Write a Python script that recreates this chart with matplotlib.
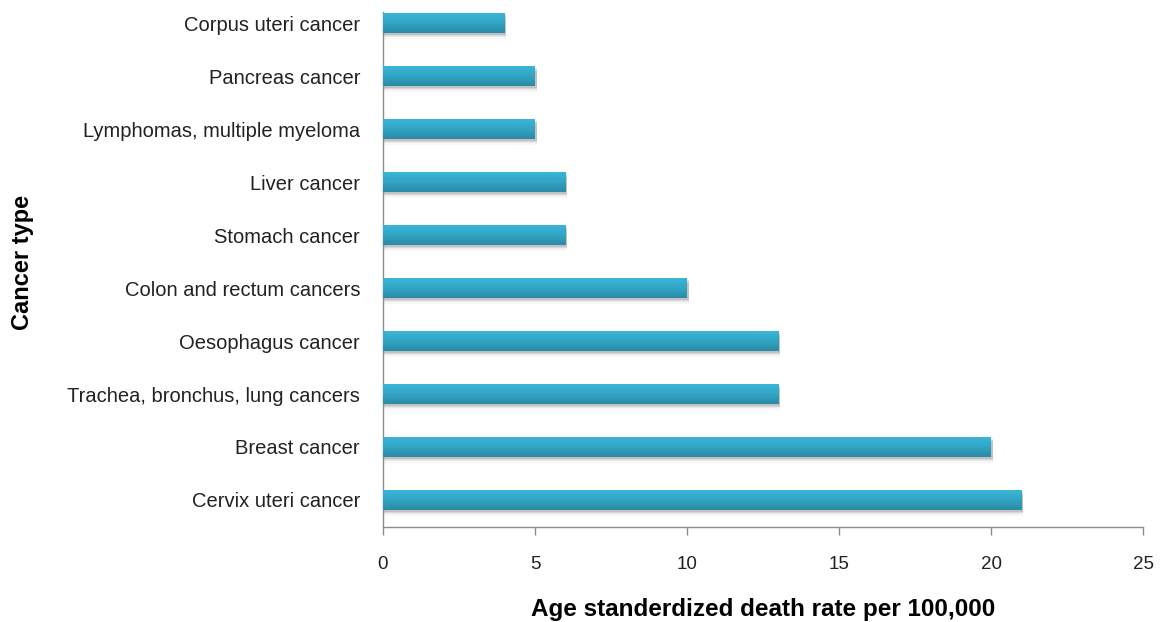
import numpy as np
import matplotlib
matplotlib.use("Agg")
import matplotlib.pyplot as plt
from matplotlib.colors import LinearSegmentedColormap
from matplotlib.patches import Rectangle

plt.rcParams['font.family'] = ['Liberation Sans', 'DejaVu Sans']

categories = [
    "Cervix uteri cancer",
    "Breast cancer",
    "Trachea, bronchus, lung cancers",
    "Oesophagus cancer",
    "Colon and rectum cancers",
    "Stomach cancer",
    "Liver cancer",
    "Lymphomas, multiple myeloma",
    "Pancreas cancer",
    "Corpus uteri cancer",
]
rates = [21, 20, 13, 13, 10, 6, 6, 5, 5, 4]
x_ticks = [0, 5, 10, 15, 20, 25]

fig = plt.figure(figsize=(11.6, 6.22), dpi=100)
ax = fig.add_axes([383 / 1160, 1 - 527 / 622, 760 / 1160, 515 / 622])

bar_h = 0.38
grad = LinearSegmentedColormap.from_list("bar", ["#2a8aa5", "#32a6c6", "#3bb7da"])
gimg = np.linspace(0, 1, 64).reshape(-1, 1)

y = np.arange(len(categories))
for yi, v in zip(y, rates):
    # soft drop shadow under each bar
    for k, a in enumerate([0.10, 0.07, 0.05, 0.03]):
        off = 0.03 + 0.025 * k
        ax.add_patch(Rectangle((0.02, yi - bar_h / 2 - off), v + 0.03, bar_h,
                               facecolor="#000000", alpha=a, edgecolor="none", zorder=1))
bars = ax.barh(y, rates, height=bar_h, color="#32a6c6", edgecolor="none", zorder=2)
for b in bars:
    x0, y0 = b.get_x(), b.get_y()
    w, h = b.get_width(), b.get_height()
    im = ax.imshow(gimg, cmap=grad, aspect="auto", origin="lower",
                   extent=(x0, x0 + w, y0, y0 + h), zorder=3, interpolation="bilinear")
    im.set_clip_path(b)

ax.set_xlim(0, 25)
ax.set_ylim(-0.51, 9.21)
ax.set_xticks(x_ticks)
ax.set_xticklabels([str(t) for t in x_ticks], fontsize=13.5, color="#222222")
ax.set_yticks(y)
ax.set_yticklabels(categories, fontsize=14.5, color="#222222")
ax.tick_params(axis="y", length=0, pad=16.5)
ax.tick_params(axis="x", length=6, width=1, color="#8c8c8c", pad=15, direction="out")

for s in ["top", "right"]:
    ax.spines[s].set_visible(False)
for s in ["left", "bottom"]:
    ax.spines[s].set_color("#8c8c8c")
    ax.spines[s].set_linewidth(1)

ax.set_xlabel("Age standerdized death rate per 100,000", fontsize=17.5,
              fontweight="bold", labelpad=18)
fig.text(22 / 1160, 1 - 262 / 622, "Cancer type", rotation=90, fontsize=17,
         fontweight="bold", ha="center", va="center")

fig.savefig("out.png", dpi=100)
